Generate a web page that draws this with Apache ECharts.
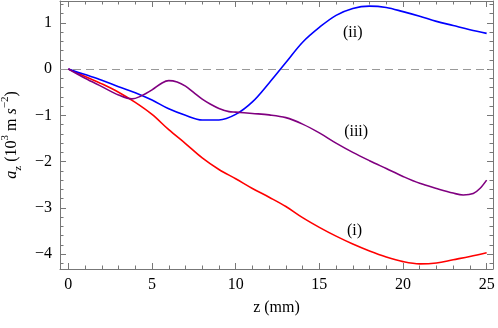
<!DOCTYPE html>
<html>
<head>
<meta charset="utf-8">
<script src="https://cdn.jsdelivr.net/npm/echarts@6/dist/echarts.min.js"></script>
<style>
  html, body { margin: 0; padding: 0; background: #fff; }
  #chart { width: 498px; height: 328px; }
</style>
</head>
<body>
<div id="chart"></div>
<script>
  // curve (i), red
  let zI = [0, 1, 2, 3, 4, 5, 6, 7, 8, 9, 10, 11, 12, 13, 14, 15, 16, 17, 18, 19, 20, 21, 22, 23, 24, 25]
  let aI = [0, -0.16, -0.32, -0.5, -0.72, -0.98, -1.31, -1.61, -1.92, -2.17, -2.37, -2.58, -2.77, -2.97, -3.21, -3.42, -3.61, -3.78, -3.93, -4.06, -4.16, -4.21, -4.19, -4.12, -4.05, -3.97]
  // curve (ii), blue
  let zII = [0, 1, 2, 3, 4, 5, 6, 7, 8, 9, 10, 11, 12, 13, 14, 15, 16, 17, 18, 19, 20, 21, 22, 23, 24, 25]
  let aII = [0, -0.12, -0.24, -0.38, -0.51, -0.67, -0.86, -1.0, -1.1, -1.1, -0.98, -0.71, -0.3, 0.14, 0.58, 0.9, 1.16, 1.31, 1.36, 1.33, 1.24, 1.14, 1.03, 0.94, 0.85, 0.77]
  // curve (iii), purple
  let zIII = [0, 1, 2, 3, 3.8, 4.3, 5, 5.6, 6, 6.5, 7, 7.5, 8, 8.5, 9, 9.6, 10, 11, 12, 13, 14, 15, 16, 17, 18, 19, 20, 21, 22, 23, 23.6, 24.2, 24.6, 25]
  let aIII = [0, -0.2, -0.38, -0.56, -0.645, -0.59, -0.45, -0.3, -0.25, -0.28, -0.37, -0.51, -0.65, -0.76, -0.85, -0.92, -0.93, -0.96, -0.99, -1.05, -1.19, -1.38, -1.6, -1.8, -1.98, -2.15, -2.32, -2.47, -2.58, -2.68, -2.72, -2.69, -2.58, -2.4]

  let curveNames = ['(i)', '(ii)', '(iii)']
  let curveColors = ['#ff0000', '#0000ff', '#800080']
  let labelAt = [[17.1, -3.5], [17.0, 0.78], [17.2, -1.35]]

  let font = 'Liberation Serif'
  let frameColor = '#777'
  let xMin = -0.5, xMax = 25.38
  let yMin = -4.32, yMax = 1.47

  function pairs (xs, ys) {
    return xs.map((x, i) => [x, ys[i]])
  }
  function minus (v) {
    return String(v).replace('-', '\u2212')
  }

  // one axis per frame side; ticks fall on the nice values (5 mm / 1 unit), minor ticks split each step in 5
  function axis (pos, min, max, withLabels) {
    return {
      type: 'value', position: pos, min: min, max: max,
      axisLine: {show: true, onZero: false, lineStyle: {color: frameColor, width: 1}},
      splitLine: {show: false},
      axisTick: {show: true, inside: true, length: 6, lineStyle: {color: frameColor, width: 1}},
      minorTick: {show: true, splitNumber: 5, length: 3.5, lineStyle: {color: frameColor, width: 1}},
      axisLabel: withLabels
        ? {show: true, showMinLabel: false, showMaxLabel: false, margin: 8, color: '#000', fontFamily: font, fontSize: 16, formatter: minus}
        : {show: false}
    }
  }

  let xBottom = axis('bottom', xMin, xMax, true)
  xBottom.name = 'z (mm)'
  xBottom.nameLocation = 'middle'
  xBottom.nameGap = 31
  xBottom.nameTextStyle = {color: '#000', fontFamily: font, fontSize: 16}

  let yLeft = axis('left', yMin, yMax, true)
  yLeft.name = '{i|a}{sub|z} (10{sup|3} m {i|s}{sup|\u22122})'
  yLeft.nameLocation = 'middle'
  yLeft.nameGap = 35
  yLeft.nameTextStyle = {
    color: '#000', fontFamily: font, fontSize: 16, lineHeight: 24,
    rich: {
      i: {fontStyle: 'italic', fontFamily: font, fontSize: 16, color: '#000', verticalAlign: 'middle'},
      sub: {fontFamily: font, fontSize: 11, color: '#000', verticalAlign: 'bottom', lineHeight: 24},
      sup: {fontFamily: font, fontSize: 11, color: '#000', verticalAlign: 'top', lineHeight: 24}
    }
  }

  let allData = [pairs(zI, aI), pairs(zII, aII), pairs(zIII, aIII)]
  let series = []
  curveNames.forEach((name, index) => {
    series.push({
      name: name,
      type: 'line',
      data: allData[index],
      smooth: 0.35,
      symbol: 'none',
      z: 3 + index,
      lineStyle: {color: curveColors[index], width: 1.6},
      markPoint: {
        symbol: 'circle', symbolSize: 0,
        label: {show: true, formatter: name, color: '#000', fontFamily: font, fontSize: 16, position: 'inside'},
        data: [{coord: labelAt[index]}]
      }
    })
  })
  series[0].markLine = {
    silent: true, symbol: 'none', label: {show: false},
    lineStyle: {color: '#999', type: [8, 5], width: 1.2},
    data: [{yAxis: 0}]
  }

  let myChart = echarts.init(document.getElementById('chart'))
  myChart.setOption({
    animation: false,
    grid: {left: 60, right: 5, top: 1, bottom: 59, outerBoundsMode: 'none'},
    xAxis: [xBottom, axis('top', xMin, xMax, false)],
    yAxis: [yLeft, axis('right', yMin, yMax, false)],
    series: series
  })
</script>
</body>
</html>
